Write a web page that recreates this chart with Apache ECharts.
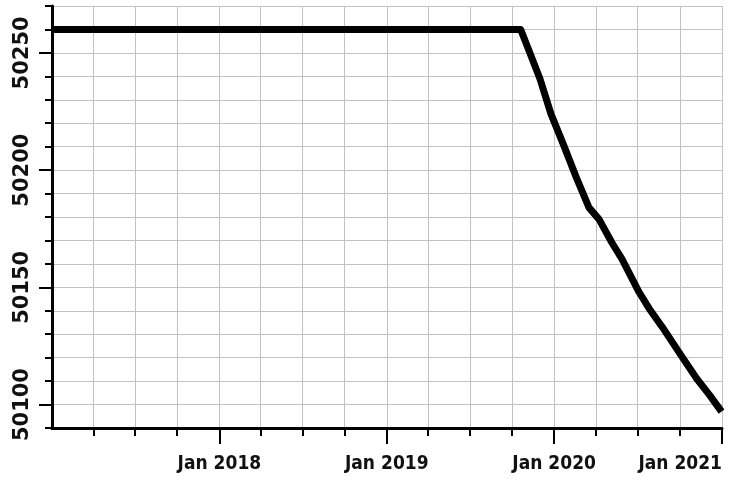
<!DOCTYPE html>
<html>
<head>
<meta charset="utf-8">
<script src="https://cdn.jsdelivr.net/npm/echarts@6/dist/echarts.min.js"></script>
<style>
  html, body { margin: 0; padding: 0; background: #fff; }
  #chart { width: 730px; height: 480px; }
</style>
</head>
<body>
<div id="chart"></div>
<script>
// 数据点（日期 / 数值）
const dates = [
  '2017-01-01', '2019-10-20', '2019-11-07', '2019-12-01', '2019-12-25',
  '2020-01-23', '2020-02-18', '2020-03-17', '2020-04-08', '2020-05-06',
  '2020-05-28', '2020-07-04', '2020-07-26', '2020-08-24', '2020-10-07',
  '2020-11-07', '2020-12-05', '2020-12-31'
]
const values = [
  50260, 50260, 50251, 50239, 50224,
  50210, 50197, 50184, 50179, 50169,
  50162, 50148, 50141, 50133, 50120,
  50111, 50104, 50097
]

// x轴刻度：季度小刻度，年份大刻度+标签
const quarterTicks = [
  '2017-04-01', '2017-07-01', '2017-10-01', '2018-01-01',
  '2018-04-01', '2018-07-01', '2018-10-01', '2019-01-01',
  '2019-04-01', '2019-07-01', '2019-10-01', '2020-01-01',
  '2020-04-01', '2020-07-01', '2020-10-01', '2021-01-01'
]
const yearTicks = ['2018-01-01', '2019-01-01', '2020-01-01', '2021-01-01']
const xRange = ['2017-01-01', '2021-01-01']

// y轴：每10一条网格线，每50一个标签
const yRange = [50090, 50270]
const yLabelTicks = [50100, 50150, 50200, 50250]

const toTime = (s) => echarts.number.parseDate(s).getTime()

const lineColor = '#000'
const gridColor = '#c2c2c2'

const chart = echarts.init(document.getElementById('chart'))

const option = {
  animation: false,
  grid: { left: 52, right: 8, top: 6, bottom: 52 },
  xAxis: [
    {
      type: 'value', // 时间戳当数值用，方便自定义季度刻度
      position: 'bottom',
      min: toTime(xRange[0]),
      max: toTime(xRange[1]),
      axisLine: { show: true, lineStyle: { color: lineColor, width: 3 } },
      axisTick: {
        show: true,
        length: 8,
        lineStyle: { color: lineColor, width: 2 },
        customValues: quarterTicks.map(toTime)
      },
      axisLabel: { show: false },
      splitLine: { show: true, lineStyle: { color: gridColor, width: 1 } }
    },
    {
      type: 'value',
      position: 'bottom',
      min: toTime(xRange[0]),
      max: toTime(xRange[1]),
      axisLine: { show: false },
      axisTick: {
        show: true,
        length: 16,
        lineStyle: { color: lineColor, width: 2 },
        customValues: yearTicks.map(toTime)
      },
      axisLabel: {
        show: true,
        customValues: yearTicks.map(toTime),
        formatter: (v) => 'Jan ' + new Date(v).getFullYear(),
        alignMaxLabel: 'right',
        margin: 27,
        fontSize: 19,
        fontWeight: 'bold',
        fontFamily: "'DejaVu Sans Condensed', 'DejaVu Sans', sans-serif",
        color: '#111'
      },
      splitLine: { show: false }
    }
  ],
  yAxis: [
    {
      type: 'value',
      position: 'left',
      min: yRange[0],
      max: yRange[1],
      interval: 10,
      axisLine: { show: true, lineStyle: { color: lineColor, width: 3 } },
      axisTick: { show: true, length: 7, lineStyle: { color: lineColor, width: 2 } },
      axisLabel: { show: false },
      splitLine: { show: true, lineStyle: { color: gridColor, width: 1 } }
    },
    {
      type: 'value',
      position: 'left',
      min: yRange[0],
      max: yRange[1],
      interval: 10,
      axisLine: { show: false },
      axisTick: {
        show: true,
        length: 13,
        lineStyle: { color: lineColor, width: 2 },
        customValues: yLabelTicks
      },
      axisLabel: {
        show: true,
        customValues: yLabelTicks,
        formatter: (v) => String(v),
        rotate: 90,
        margin: 19,
        fontSize: 21,
        fontWeight: 'bold',
        fontFamily: "'DejaVu Sans', sans-serif",
        color: '#111'
      },
      splitLine: { show: false }
    }
  ],
  series: [
    {
      type: 'line',
      xAxisIndex: 0,
      yAxisIndex: 0,
      showSymbol: false,
      symbol: 'none',
      lineStyle: { color: lineColor, width: 7, join: 'round' },
      data: dates.map((d, i) => [toTime(d), values[i]])
    }
  ]
}

chart.setOption(option)
</script>
</body>
</html>
